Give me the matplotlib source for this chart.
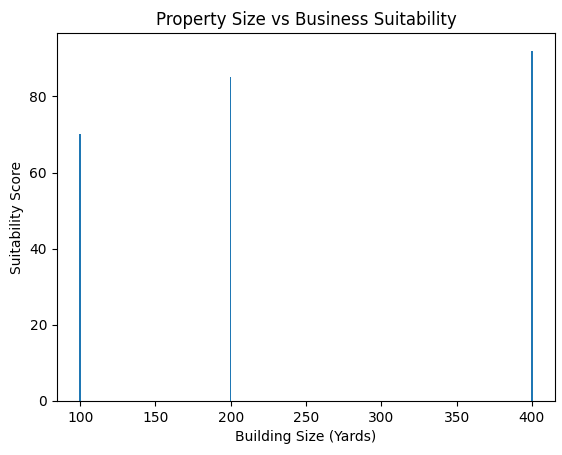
import matplotlib
matplotlib.use("Agg")
import matplotlib.pyplot as plt

sizes = [100, 200, 400]
scores = [70, 85, 92]

fig, ax = plt.subplots(figsize=(5.62, 4.55), dpi=100)
fig.subplots_adjust(left=0.101, right=0.988, top=0.927, bottom=0.119)
ax.bar(sizes, scores, width=1.0)
ax.set_title("Property Size vs Business Suitability")
ax.set_xlabel("Building Size (Yards)")
ax.set_ylabel("Suitability Score")
fig.savefig("out.png", dpi=100)
